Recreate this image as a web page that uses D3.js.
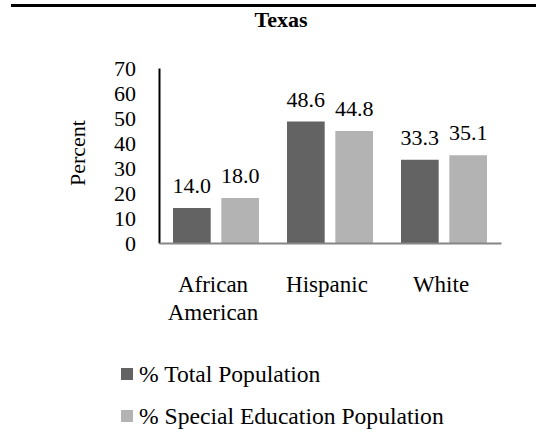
<!DOCTYPE html>
<html>
<head>
<meta charset="utf-8">
<script src="https://cdn.jsdelivr.net/npm/d3@7"></script>
<style>
  html, body { margin: 0; padding: 0; background: #fff; }
  svg { display: block; }
  svg text { font-family: "Liberation Serif", "DejaVu Serif", "Times New Roman", Times, serif; fill: #000; }
</style>
</head>
<body>
<svg id="chart" width="536" height="432"></svg>
<script>
const title = "Texas";
const categories = [["African", "American"], ["Hispanic"], ["White"]];
const seriesNames = ["% Total Population", "% Special Education Population"];
const totalPopulation = [14.0, 48.6, 33.3];
const specialEdPopulation = [18.0, 44.8, 35.1];
const yTicks = [0, 10, 20, 30, 40, 50, 60, 70];
const yLabel = "Percent";
const colors = ["#636363", "#b3b3b3"];

const FONT = "'Liberation Serif', 'DejaVu Serif', serif";
const svg = d3.select("#chart");
const m = { left: 159, right: 501, top: 68, bottom: 243 };

svg.append("rect").attr("x", 11).attr("y", 4).attr("width", 525).attr("height", 3).attr("fill", "#000");

svg.append("text").attr("x", 281).attr("y", 27).attr("text-anchor", "middle")
  .attr("font-family", FONT).attr("font-weight", "bold").attr("font-size", 22).text(title);

const keys = categories.map(c => c.join(" "));
const x0 = d3.scaleBand().domain(keys).range([m.left, m.right]).paddingInner(0).paddingOuter(0);
const x1 = d3.scaleBand().domain([0, 1]).range([0, 86]).paddingInner(0.22);
const y = d3.scaleLinear().domain([0, 70]).range([m.bottom, m.top]);

const series = [totalPopulation, specialEdPopulation];
const rows = keys.map((k, i) => ({ key: k, values: series.map(s => s[i]) }));

const g = svg.selectAll("g.cat").data(rows).join("g").attr("class", "cat")
  .attr("transform", d => `translate(${x0(d.key) + (x0.bandwidth() - 86) / 2},0)`);

g.selectAll("rect").data(d => d.values.map((v, j) => ({ v, j }))).join("rect")
  .attr("x", d => x1(d.j)).attr("width", x1.bandwidth())
  .attr("y", d => y(d.v)).attr("height", d => y(0) - y(d.v))
  .attr("fill", d => colors[d.j]);

g.selectAll("text.val").data(d => d.values.map((v, j) => ({ v, j }))).join("text")
  .attr("class", "val")
  .attr("x", d => x1(d.j) + x1.bandwidth() / 2)
  .attr("y", d => y(d.v) - 15)
  .attr("text-anchor", "middle").attr("font-family", FONT).attr("font-size", 22)
  .text(d => d.v.toFixed(1));

const yAxis = d3.axisLeft(y).tickValues(yTicks).tickSize(0).tickPadding(23);
const ya = svg.append("g").attr("transform", `translate(${m.left},0)`).call(yAxis)
  .attr("font-family", FONT).attr("font-size", 22);
ya.select(".domain").attr("stroke", "#000").attr("stroke-width", 2);
ya.selectAll("text").attr("fill", "#000");

const xAxis = d3.axisBottom(x0).tickSize(0).tickFormat("");
const xa = svg.append("g").attr("transform", `translate(0,${m.bottom})`).call(xAxis);
xa.select(".domain").attr("stroke", "#868686").attr("stroke-width", 2);

categories.forEach((lines, i) => {
  const cx = x0(keys[i]) + x0.bandwidth() / 2 - 3;
  lines.forEach((ln, k) => {
    svg.append("text").attr("x", cx).attr("y", 292 + k * 28)
      .attr("text-anchor", "middle").attr("font-family", FONT).attr("font-size", 23).text(ln);
  });
});

svg.append("text").attr("transform", "translate(85,153) rotate(-90)")
  .attr("text-anchor", "middle").attr("font-family", FONT).attr("font-size", 22).text(yLabel);

seriesNames.forEach((name, i) => {
  const ly = 368 + i * 42;
  svg.append("rect").attr("x", 121).attr("y", ly).attr("width", 12).attr("height", 12).attr("fill", colors[i]);
  svg.append("text").attr("x", 139).attr("y", ly + 14).attr("font-family", FONT).attr("font-size", 23.6).text(name);
});
</script>
</body>
</html>
